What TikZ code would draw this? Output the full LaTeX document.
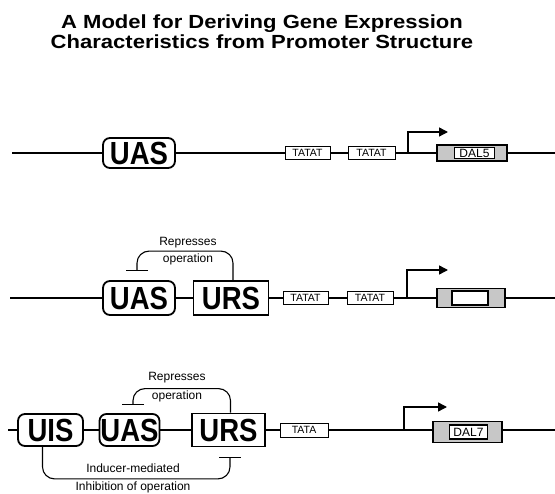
\documentclass[tikz,border=0pt]{standalone}
\usepackage{fontspec}
\setmainfont{Liberation Sans}
\newfontfamily\elemfont{Liberation Sans}[FakeStretch=0.86]
\newfontfamily\titlefont{Liberation Sans}[FakeStretch=1.16]
\usetikzlibrary{arrows.meta}

\begin{document}
\begin{tikzpicture}[
  x=1pt, y=-1pt,
  dna/.style={line width=2.6pt},
  elem/.style={draw, line width=1.8pt, fill=white, inner sep=0pt,
               font=\elemfont\bfseries\fontsize{32}{32}\selectfont},
  uasbox/.style={elem, rounded corners=7pt},
  ursbox/.style={elem},
  tatabox/.style={draw, line width=0.9pt, fill=white, inner sep=0pt,
                  font=\fontsize{10.5}{11}\selectfont},
  gene/.style={draw, line width=1.6pt, fill=black!22, inner sep=0pt},
  genelbl/.style={draw, line width=1.4pt, fill=white, inner sep=0pt,
                  font=\fontsize{12}{12}\selectfont},
  prom/.style={line width=1.4pt, -{Triangle[length=9pt,width=9pt]}},
  repr/.style={line width=1.1pt, rounded corners=12pt,
               -{Bar[width=22pt,line width=1.3pt]}},
  note/.style={font=\fontsize{12}{12}\selectfont, inner sep=0pt},
]
  \useasboundingbox (0,0) rectangle (555,494);

  \def\yA{153}    % first promoter (DAL5)
  \def\yB{298}    % second promoter
  \def\yC{430}    % third promoter (DAL7)

  % --- Title ---
  \node[font=\titlefont\bfseries\fontsize{19}{20}\selectfont, align=center] (title)
    at (262,32) {A Model for Deriving Gene Expression\\Characteristics from Promoter Structure};

  % ======== (1) UAS only ========
  \coordinate (startA) at (12,\yA);
  \coordinate (endA) at (555,\yA);
  \node[uasbox, minimum width=72pt, minimum height=30pt] (uasA) at (139,\yA) {UAS};
  \node[tatabox, minimum width=45pt, minimum height=13pt] (tataA1) at (307.5,\yA) {TATAT};
  \node[tatabox, minimum width=47pt, minimum height=13pt] (tataA2) at (371.5,\yA) {TATAT};
  \node[gene, minimum width=70pt, minimum height=16pt] (geneA) at (472,\yA) {};
  \node[genelbl, minimum width=40pt, minimum height=11pt] (dalA) at (474.5,\yA) {DAL5};
  \coordinate (tssA) at (408,\yA);
  \coordinate (tssAend) at (448,132);

  \draw[dna] (startA) -- (uasA) -- (tataA1) -- (tataA2) -- (geneA) -- (endA);
  \draw[prom] (tssA) |- (tssAend);

  % ======== (2) UAS + URS ========
  \coordinate (startB) at (10,\yB);
  \coordinate (endB) at (555,\yB);
  \node[uasbox, minimum width=72pt, minimum height=34pt] (uasB) at (139,\yB) {UAS};
  \node[ursbox, minimum width=75pt, minimum height=34pt] (ursB) at (231,\yB) {URS};
  \node[tatabox, minimum width=45pt, minimum height=13pt] (tataB1) at (305.5,\yB) {TATAT};
  \node[tatabox, minimum width=46pt, minimum height=13pt] (tataB2) at (370,\yB) {TATAT};
  \node[gene, minimum width=68pt, minimum height=19pt] (geneB) at (471,\yB) {};
  \node[genelbl, minimum width=36pt, minimum height=14pt] (dalB) at (470,\yB) {};
  \coordinate (tssB) at (407,\yB);
  \coordinate (tssBend) at (448,270);
  \coordinate (barB) at (137,271);

  \draw[dna] (startB) -- (uasB) -- (ursB) -- (tataB1) -- (tataB2) -- (geneB) -- (endB);
  \draw[prom] (tssB) |- (tssBend);
  \draw[repr] ([xshift=2pt]ursB.north) -- ++(0,-29) -| (barB);
  \node[note] at (188,243) {Represses};
  \node[note] at (188,259) {operation};

  % ======== (3) UIS + UAS + URS ========
  \coordinate (startC) at (8,\yC);
  \coordinate (endC) at (555,\yC);
  \node[uasbox, minimum width=65pt, minimum height=32pt] (uisC) at (50.5,\yC) {UIS};
  \node[uasbox, minimum width=60pt, minimum height=32pt] (uasC) at (129.5,\yC) {UAS};
  \node[ursbox, minimum width=73pt, minimum height=33pt] (ursC) at (228.5,\yC) {URS};
  \node[tatabox, minimum width=48pt, minimum height=14pt] (tataC) at (304,\yC) {TATA};
  \node[gene, minimum width=69pt, minimum height=21pt] (geneC) at (467.5,432) {};
  \node[genelbl, minimum width=38pt, minimum height=14pt] (dalC) at (468.5,432) {DAL7};
  \coordinate (tssC) at (404,\yC);
  \coordinate (tssCend) at (447,407);
  \coordinate (barC) at (133,405);
  \coordinate (inhC) at (230,457);

  \draw[dna] (startC) -- (uisC) -- (uasC) -- (ursC) -- (tataC) -- (tssC) -- (geneC.west |- tssC);
  \draw[dna] (geneC.east |- tssC) -- (endC);
  \draw[prom] (tssC) |- (tssCend);
  \draw[repr] ([xshift=2pt]ursC.north) -- ++(0,-24) -| (barC);
  \node[note] at (177,378) {Represses};
  \node[note] at (177,396) {operation};
  \draw[repr] ([xshift=-8pt]uisC.south) -- ++(0,32) -| (inhC);
  \node[note] at (133,468) {Inducer-mediated};
  \node[note] at (133,487) {Inhibition of operation};
\end{tikzpicture}
\end{document}
